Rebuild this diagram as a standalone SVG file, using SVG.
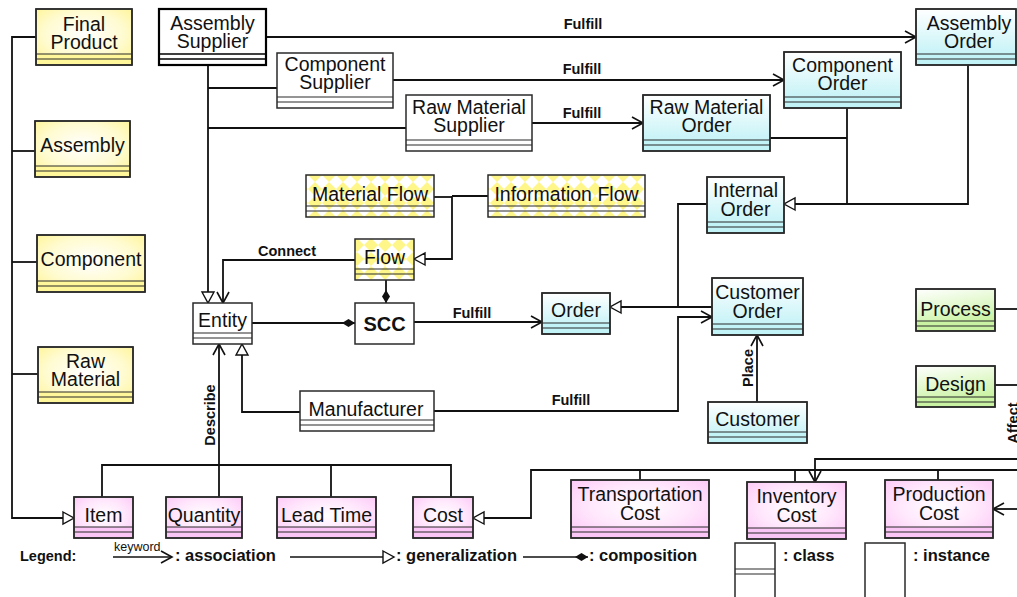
<svg xmlns="http://www.w3.org/2000/svg" width="1017" height="597" viewBox="0 0 1017 597">
<defs>
<radialGradient id="gy" cx="0.5" cy="0.45" r="0.75"><stop offset="0" stop-color="#ffffff"/><stop offset="0.55" stop-color="#fffbd0"/><stop offset="1" stop-color="#fff38a"/></radialGradient>
<linearGradient id="gc" x1="0" y1="0" x2="0" y2="1"><stop offset="0" stop-color="#ffffff"/><stop offset="1" stop-color="#b9f0f5"/></linearGradient>
<radialGradient id="gp" cx="0.5" cy="0.45" r="0.75"><stop offset="0" stop-color="#ffffff"/><stop offset="0.5" stop-color="#ffe6fc"/><stop offset="1" stop-color="#fcc2f6"/></radialGradient>
<linearGradient id="gg" x1="0" y1="0" x2="0.3" y2="1"><stop offset="0" stop-color="#ffffff"/><stop offset="1" stop-color="#c6f29c"/></linearGradient>
<pattern id="pat" width="14" height="14" patternUnits="userSpaceOnUse"><rect width="14" height="14" fill="#ffffff"/><path d="M7,0 L14,7 L7,14 L0,7 Z" fill="#fff68a"/></pattern>
<marker id="open" markerUnits="userSpaceOnUse" markerWidth="16" markerHeight="16" refX="11" refY="6" orient="auto" overflow="visible"><path d="M0,0 L11,6 L0,12" fill="none" stroke="#111" stroke-width="1.6"/></marker>
<marker id="tri" markerUnits="userSpaceOnUse" markerWidth="16" markerHeight="16" refX="11" refY="6" orient="auto" overflow="visible"><path d="M0,0 L11,6 L0,12 Z" fill="#fff" stroke="#111" stroke-width="1.4"/></marker>
<marker id="dia" markerUnits="userSpaceOnUse" markerWidth="16" markerHeight="16" refX="13" refY="4" orient="auto" overflow="visible"><path d="M0,4 L6.5,0 L13,4 L6.5,8 Z" fill="#111"/></marker>
</defs>
<style>
.box{stroke:#2a2a2a;stroke-width:1.5}
.ol{fill:none;stroke:#2a2a2a;stroke-width:1.5}
.cl{fill:none;stroke:#2a2a2a;stroke-width:1.2}
.y{fill:url(#gy)} .yc{fill:#fff799}
.c{fill:url(#gc)} .cc{fill:#c2f3f7}
.p{fill:url(#gp)} .pc{fill:#fac6f5}
.g{fill:url(#gg)} .gc{fill:#c9f2a3}
.w{fill:#ffffff} .f{fill:url(#pat)}
text{font-family:"Liberation Sans",Arial,sans-serif;fill:#111}
.n{font-size:19.5px;text-anchor:middle}
.lb{font-size:14.5px;font-weight:bold;text-anchor:middle}
.lg{font-size:16.5px;font-weight:bold}
.conn path{fill:none;stroke:#111;stroke-width:1.8}
</style>
<rect width="1017" height="597" fill="#ffffff"/>

<g id="connectors" class="conn">
<path d="M266,37 H916" marker-end="url(#open)"/>
<path d="M393,80 H784" marker-end="url(#open)"/>
<path d="M532,123 H643" marker-end="url(#open)"/>
<path d="M208,65 V303" marker-end="url(#tri)"/>
<path d="M208,88 H277"/>
<path d="M208,128 H406"/>
<path d="M770,138 H847"/>
<path d="M847,108 V204"/>
<path d="M968,65 V204 H784" marker-end="url(#tri)"/>
<path d="M707,204 H678 V307 H610" marker-end="url(#tri)"/>
<path d="M712,307 H678"/>
<path d="M434,411 H678 V317 H712" marker-end="url(#open)"/>
<path d="M414,322 H542" marker-end="url(#open)"/>
<path d="M252,323 H355" marker-end="url(#dia)"/>
<path d="M386,280 V303" marker-end="url(#dia)"/>
<path d="M355,260 H223 V303" marker-end="url(#open)"/>
<path d="M434,197 H452"/>
<path d="M488,196 H452"/>
<path d="M452,196 V259 H414" marker-end="url(#tri)"/>
<path d="M219,497 V344" marker-end="url(#open)"/>
<path d="M102,497 V465 H451 V497"/>
<path d="M331,465 V497"/>
<path d="M300,412 H242 V344" marker-end="url(#tri)"/>
<path d="M36,37 H12 V518 H74" marker-end="url(#tri)"/>
<path d="M12,151 H35"/>
<path d="M12,262 H37"/>
<path d="M12,374 H38"/>
<path d="M1017,470 H531 V518 H473" marker-end="url(#tri)"/>
<path d="M640,470 V480"/>
<path d="M795,470 V482"/>
<path d="M938,470 V480"/>
<path d="M1017,459 H815 V482" marker-end="url(#open)"/>
<path d="M1017,509 H993" marker-end="url(#open)"/>
<path d="M995,309 H1017"/>
<path d="M995,385 H1017"/>
<path d="M757,402 V335" marker-end="url(#open)"/>
<text class="lb" x="583" y="29">Fulfill</text>
<text class="lb" x="582" y="74">Fulfill</text>
<text class="lb" x="582" y="118">Fulfill</text>
<text class="lb" x="472" y="318">Fulfill</text>
<text class="lb" x="571" y="405">Fulfill</text>
<text class="lb" x="287" y="256">Connect</text>
<text class="lb" transform="translate(215,415) rotate(-90)">Describe</text>
<text class="lb" transform="translate(753,368) rotate(-90)">Place</text>
<text class="lb" transform="translate(1018,423) rotate(-90)">Affect</text>
</g>

<g id="final-product"><rect class="box y" x="36" y="9" width="96" height="56"/><rect class="yc" x="37" y="54" width="94" height="10"/><path class="cl" d="M36,54 H132 M36,59 H132"/><rect class="ol" x="36" y="9" width="96" height="56"/><text class="n" x="84" y="31">Final</text><text class="n" x="84" y="49">Product</text></g>
<g id="assembly"><rect class="box y" x="35" y="121" width="95" height="56"/><rect class="yc" x="36" y="166" width="93" height="10"/><path class="cl" d="M35,166 H130 M35,171 H130"/><rect class="ol" x="35" y="121" width="95" height="56"/><text class="n" x="82.5" y="152">Assembly</text></g>
<g id="component"><rect class="box y" x="37" y="235" width="108" height="57"/><rect class="yc" x="38" y="281" width="106" height="10"/><path class="cl" d="M37,281 H145 M37,286 H145"/><rect class="ol" x="37" y="235" width="108" height="57"/><text class="n" x="91" y="266">Component</text></g>
<g id="raw-material"><rect class="box y" x="38" y="347" width="95" height="56"/><rect class="yc" x="39" y="392" width="93" height="10"/><path class="cl" d="M38,392 H133 M38,397 H133"/><rect class="ol" x="38" y="347" width="95" height="56"/><text class="n" x="85.5" y="368">Raw</text><text class="n" x="85.5" y="386">Material</text></g>

<g id="assembly-supplier"><rect class="w" x="159" y="9" width="107" height="56"/><path fill="none" stroke="#000" stroke-width="1.6" d="M159,54 H266 M159,59 H266"/><rect fill="none" stroke="#000" stroke-width="2.2" x="159" y="9" width="107" height="56"/><text class="n" x="212.5" y="30">Assembly</text><text class="n" x="212.5" y="48">Supplier</text></g>
<g id="component-supplier"><rect class="box w" x="277" y="53" width="116" height="55"/><path class="cl" d="M277,97 H393 M277,102 H393"/><text class="n" x="335" y="71">Component</text><text class="n" x="335" y="89">Supplier</text></g>
<g id="raw-material-supplier"><rect class="box w" x="406" y="95" width="126" height="56"/><path class="cl" d="M406,140 H532 M406,145 H532"/><text class="n" x="469" y="114">Raw Material</text><text class="n" x="469" y="132">Supplier</text></g>

<g id="raw-material-order"><rect class="box c" x="643" y="95" width="127" height="56"/><rect class="cc" x="644" y="140" width="125" height="10"/><path class="cl" d="M643,140 H770 M643,145 H770"/><rect class="ol" x="643" y="95" width="127" height="56"/><text class="n" x="706.5" y="114">Raw Material</text><text class="n" x="706.5" y="132">Order</text></g>
<g id="component-order"><rect class="box c" x="784" y="52" width="117" height="56"/><rect class="cc" x="785" y="97" width="115" height="10"/><path class="cl" d="M784,97 H901 M784,102 H901"/><rect class="ol" x="784" y="52" width="117" height="56"/><text class="n" x="842.5" y="72">Component</text><text class="n" x="842.5" y="90">Order</text></g>
<g id="assembly-order"><rect class="box c" x="916" y="9" width="100" height="56"/><rect class="cc" x="917" y="54" width="98" height="10"/><path class="cl" d="M916,54 H1016 M916,59 H1016"/><rect class="ol" x="916" y="9" width="100" height="56"/><text class="n" x="969" y="30">Assembly</text><text class="n" x="969" y="48">Order</text></g>
<g id="internal-order"><rect class="box c" x="707" y="177" width="77" height="56"/><rect class="cc" x="708" y="222" width="75" height="10"/><path class="cl" d="M707,222 H784 M707,227 H784"/><rect class="ol" x="707" y="177" width="77" height="56"/><text class="n" x="745.5" y="197">Internal</text><text class="n" x="745.5" y="216">Order</text></g>
<g id="order"><rect class="box c" x="542" y="293" width="68" height="41"/><rect class="cc" x="543" y="323" width="66" height="10"/><path class="cl" d="M542,323 H610 M542,328 H610"/><rect class="ol" x="542" y="293" width="68" height="41"/><text class="n" x="576" y="317">Order</text></g>
<g id="customer-order"><rect class="box c" x="712" y="278" width="91" height="57"/><rect class="cc" x="713" y="324" width="89" height="10"/><path class="cl" d="M712,324 H803 M712,329 H803"/><rect class="ol" x="712" y="278" width="91" height="57"/><text class="n" x="757.5" y="299">Customer</text><text class="n" x="757.5" y="318">Order</text></g>
<g id="customer"><rect class="box c" x="708" y="402" width="99" height="41"/><rect class="cc" x="709" y="432" width="97" height="10"/><path class="cl" d="M708,432 H807 M708,437 H807"/><rect class="ol" x="708" y="402" width="99" height="41"/><text class="n" x="757.5" y="426">Customer</text></g>

<g id="entity"><rect class="box w" x="193" y="303" width="59" height="41"/><path class="cl" d="M193,333 H252 M193,338 H252"/><text class="n" x="222.5" y="327">Entity</text></g>
<g id="scc"><rect class="box w" x="355" y="303" width="59" height="41"/><text class="n" x="384.5" y="331" style="font-weight:bold;font-size:20px">SCC</text></g>
<g id="flow"><rect class="box f" x="355" y="239" width="59" height="41"/><path class="cl" d="M355,269 H414 M355,274 H414"/><text class="n" x="384.5" y="264">Flow</text></g>
<g id="material-flow"><rect class="box f" x="306" y="175" width="128" height="42"/><path class="cl" d="M306,206 H434 M306,211 H434"/><text class="n" x="370" y="201">Material Flow</text></g>
<g id="information-flow"><rect class="box f" x="488" y="175" width="157" height="42"/><path class="cl" d="M488,206 H645 M488,211 H645"/><text class="n" x="566.5" y="201">Information Flow</text></g>
<g id="manufacturer"><rect class="box w" x="300" y="391" width="134" height="40"/><path class="cl" d="M300,420 H434 M300,425 H434"/><text class="n" x="366" y="416">Manufacturer</text></g>

<g id="process"><rect class="box g" x="916" y="289" width="79" height="42"/><rect class="gc" x="917" y="321" width="77" height="9"/><path class="cl" d="M916,321 H995 M916,326 H995"/><rect class="ol" x="916" y="289" width="79" height="42"/><text class="n" x="955.5" y="316">Process</text></g>
<g id="design"><rect class="box g" x="916" y="366" width="79" height="41"/><rect class="gc" x="917" y="397" width="77" height="9"/><path class="cl" d="M916,397 H995 M916,402 H995"/><rect class="ol" x="916" y="366" width="79" height="41"/><text class="n" x="955.5" y="391">Design</text></g>

<g id="item"><rect class="box p" x="74" y="497" width="59" height="41"/><rect class="pc" x="75" y="527" width="57" height="10"/><path class="cl" d="M74,527 H133 M74,532 H133"/><rect class="ol" x="74" y="497" width="59" height="41"/><text class="n" x="103.5" y="522">Item</text></g>
<g id="quantity"><rect class="box p" x="166" y="497" width="76" height="41"/><rect class="pc" x="167" y="527" width="74" height="10"/><path class="cl" d="M166,527 H242 M166,532 H242"/><rect class="ol" x="166" y="497" width="76" height="41"/><text class="n" x="204" y="522">Quantity</text></g>
<g id="lead-time"><rect class="box p" x="277" y="497" width="99" height="41"/><rect class="pc" x="278" y="527" width="97" height="10"/><path class="cl" d="M277,527 H376 M277,532 H376"/><rect class="ol" x="277" y="497" width="99" height="41"/><text class="n" x="326.5" y="522">Lead Time</text></g>
<g id="cost"><rect class="box p" x="413" y="497" width="60" height="41"/><rect class="pc" x="414" y="527" width="58" height="10"/><path class="cl" d="M413,527 H473 M413,532 H473"/><rect class="ol" x="413" y="497" width="60" height="41"/><text class="n" x="443" y="522">Cost</text></g>
<g id="transportation-cost"><rect class="box p" x="571" y="480" width="138" height="58"/><rect class="pc" x="572" y="527" width="136" height="10"/><path class="cl" d="M571,527 H709 M571,532 H709"/><rect class="ol" x="571" y="480" width="138" height="58"/><text class="n" x="640" y="501">Transportation</text><text class="n" x="640" y="520">Cost</text></g>
<g id="inventory-cost"><rect class="box p" x="747" y="482" width="99" height="57"/><rect class="pc" x="748" y="528" width="97" height="10"/><path class="cl" d="M747,528 H846 M747,533 H846"/><rect class="ol" x="747" y="482" width="99" height="57"/><text class="n" x="796.5" y="503">Inventory</text><text class="n" x="796.5" y="522">Cost</text></g>
<g id="production-cost"><rect class="box p" x="885" y="480" width="108" height="58"/><rect class="pc" x="886" y="527" width="106" height="10"/><path class="cl" d="M885,527 H993 M885,532 H993"/><rect class="ol" x="885" y="480" width="108" height="58"/><text class="n" x="939" y="501">Production</text><text class="n" x="939" y="520">Cost</text></g>

<g id="legend">
<text class="lg" x="20" y="561" style="font-size:14.5px">Legend:</text>
<text x="114" y="551" style="font-size:12.5px">keyword</text>
<path d="M113,557 H172" fill="none" stroke="#111" stroke-width="1.5" marker-end="url(#open)"/>
<text class="lg" x="175" y="561">: association</text>
<path d="M290,557 H394" fill="none" stroke="#111" stroke-width="1.5" marker-end="url(#tri)"/>
<text class="lg" x="396" y="561">: generalization</text>
<path d="M523,557 H588" fill="none" stroke="#111" stroke-width="1.5" marker-end="url(#dia)"/>
<text class="lg" x="589" y="561">: composition</text>
<rect x="735" y="543" width="40" height="60" fill="#fff" stroke="#2a2a2a" stroke-width="1.5"/>
<path d="M735,569 H775 M735,574 H775" fill="none" stroke="#2a2a2a" stroke-width="1.2"/>
<text class="lg" x="783" y="561">: class</text>
<rect x="865" y="543" width="40" height="60" fill="#fff" stroke="#2a2a2a" stroke-width="1.5"/>
<text class="lg" x="913" y="561">: instance</text>
</g>
</svg>
